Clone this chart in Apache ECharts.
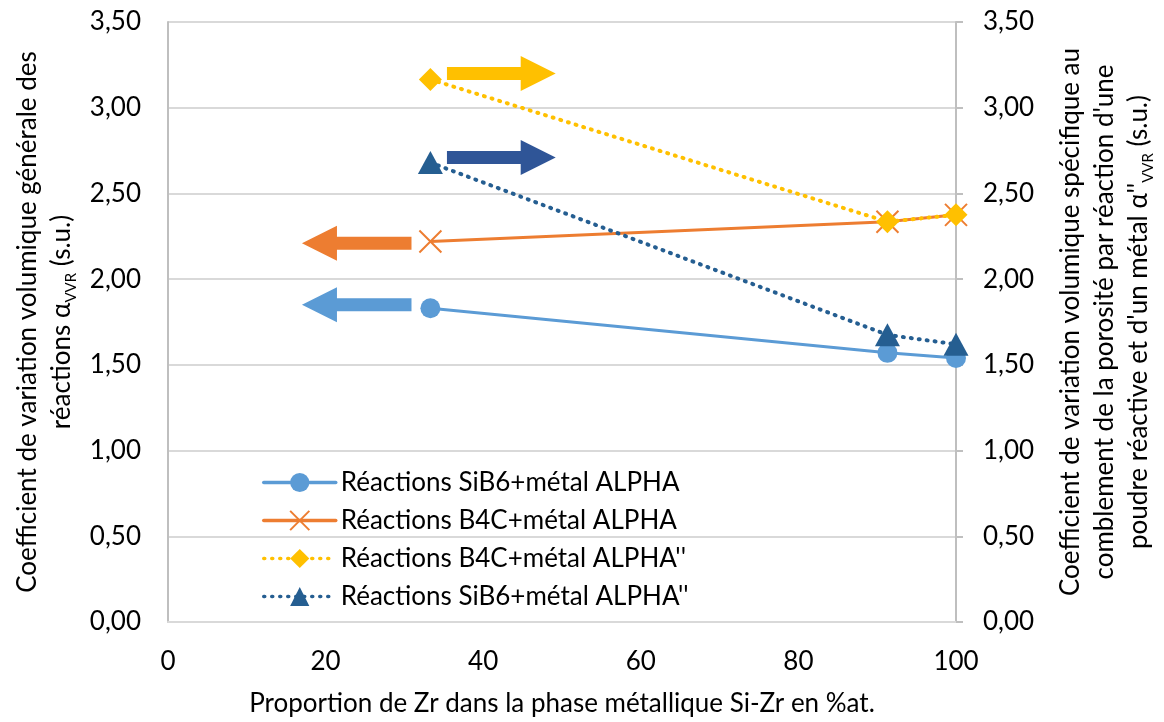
<!DOCTYPE html>
<html>
<head>
<meta charset="utf-8">
<script src="https://cdn.jsdelivr.net/npm/echarts@6/dist/echarts.min.js"></script>
<style>
html,body{margin:0;padding:0;background:#fff;}
#chart{width:1164px;height:722px;}
</style>
</head>
<body>
<div id="chart"></div>
<script>
// ---- data ----
const xValues = [33.3, 91.3, 100];
const sib6Alpha = [1.83, 1.57, 1.54];
const b4cAlpha = [2.22, 2.335, 2.375];
const b4cAlpha2 = [3.165, 2.335, 2.375];
const sib6Alpha2 = [2.68, 1.675, 1.62];
const seriesNames = [
  'Réactions SiB6+métal ALPHA',
  'Réactions B4C+métal ALPHA',
  "Réactions B4C+métal ALPHA''",
  "Réactions SiB6+métal ALPHA''"
];
// annotation arrows (tail x, tip x, y) in data units
const arrowTailX = [35.4, 35.4, 30.9, 30.9];
const arrowTipX = [49.2, 49.2, 17.0, 17.0];
const arrowY = [3.20, 2.71, 2.21, 1.85];
const arrowColors = ['#FFC000', '#2F5597', '#ED7D31', '#5B9BD5'];
const xTicks = [0, 20, 40, 60, 80, 100];

const FONT = 'Lato';
const FS = 26;
const fmt = v => v.toFixed(2).replace('.', ',');
const pts = arr => xValues.map((x, i) => [x, arr[i]]);

const arrowData = arrowTailX.map((t, i) => [t, arrowY[i], arrowTipX[i], arrowY[i]]);
const lineColors = ['#5B9BD5', '#ED7D31', '#FFC000', '#255E91'];
const dotted = [1, 7];

const chart = echarts.init(document.getElementById('chart'));
chart.setOption({
  animation: false,
  backgroundColor: '#fff',
  textStyle: { fontFamily: FONT },
  grid: { left: 168, right: 206, top: 22, bottom: 96 },
  legend: {
    data: seriesNames.map((n, i) => ({
      name: n,
      lineStyle: { width: 3.5, color: lineColors[i], type: i >= 2 ? dotted : 'solid', cap: 'round' }
    })),
    lineStyle: { width: 3.5 },
    orient: 'vertical',
    left: 262,
    top: 469,
    padding: 0,
    itemWidth: 72,
    itemHeight: 24,
    itemGap: 11,
    textStyle: { fontFamily: FONT, fontSize: FS, color: '#000', lineHeight: 27 }
  },
  xAxis: {
    type: 'value', min: 0, max: 100, interval: 20,
    axisLine: { show: true, lineStyle: { color: '#D9D9D9', width: 2 } },
    axisTick: { show: false },
    splitLine: { show: false },
    axisLabel: { margin: 27, fontSize: FS, color: '#000', fontFamily: FONT,
      formatter: v => xTicks.includes(v) ? String(v) : '' },
    name: 'Proportion de Zr dans la phase métallique Si-Zr en %at.',
    nameLocation: 'middle', nameGap: 69,
    nameTextStyle: { fontSize: FS, color: '#000', fontFamily: FONT }
  },
  yAxis: [
    {
      type: 'value', min: 0, max: 3.5, interval: 0.5, position: 'left',
      axisLine: { show: true, lineStyle: { color: '#BFBFBF', width: 2 } },
      axisTick: { show: false },
      splitLine: { show: true, lineStyle: { color: '#D9D9D9', width: 2 } },
      axisLabel: { margin: 27, fontSize: FS, color: '#000', fontFamily: FONT, formatter: fmt },
      name: 'Coefficient de variation volumique générale des\nréactions α{sub|VVR} (s.u.)',
      nameLocation: 'middle', nameGap: 82,
      nameTextStyle: { fontSize: FS, color: '#000', fontFamily: FONT, lineHeight: 34, align: 'center',
        rich: { sub: { fontSize: 15, verticalAlign: 'bottom', lineHeight: 24, fontFamily: FONT, color: '#000' } } }
    },
    {
      type: 'value', min: 0, max: 3.5, interval: 0.5, position: 'right',
      axisLine: { show: true, lineStyle: { color: '#BFBFBF', width: 2 } },
      axisTick: { show: true, length: 7, lineStyle: { color: '#BFBFBF', width: 2 } },
      splitLine: { show: false },
      axisLabel: { margin: 27, fontSize: FS, color: '#000', fontFamily: FONT, formatter: fmt },
      name: "Coefficient de variation volumique spécifique au\ncomblement de la porosité par réaction d'une\npoudre réactive et d'un métal α''{sub|VVR} (s.u.)",
      nameLocation: 'middle', nameGap: 98,
      nameTextStyle: { fontSize: FS, color: '#000', fontFamily: FONT, lineHeight: 34, align: 'center',
        rich: { sub: { fontSize: 15, verticalAlign: 'bottom', lineHeight: 24, fontFamily: FONT, color: '#000' } } }
    }
  ],
  series: [
    {
      type: 'custom', silent: true, z: 1,
      data: arrowData,
      encode: { x: [0, 2], y: [1, 3] },
      renderItem: (params, api) => {
        const p1 = api.coord([api.value(0), api.value(1)]);
        const p2 = api.coord([api.value(2), api.value(3)]);
        const d = p2[0] > p1[0] ? 1 : -1;
        const hw = 6.5, hh = 17.5, hl = 35;
        const bx = p2[0] - d * hl, y = p1[1];
        return {
          type: 'polygon',
          shape: { points: [
            [p1[0], y - hw], [bx, y - hw], [bx, y - hh], [p2[0], y],
            [bx, y + hh], [bx, y + hw], [p1[0], y + hw]
          ] },
          style: { fill: arrowColors[params.dataIndex] }
        };
      }
    },
    {
      name: seriesNames[0], type: 'line', yAxisIndex: 0, z: 3,
      data: pts(sib6Alpha),
      symbol: 'circle', symbolSize: 20,
      lineStyle: { color: lineColors[0], width: 3 },
      itemStyle: { color: lineColors[0] }
    },
    {
      name: seriesNames[1], type: 'line', yAxisIndex: 0, z: 3,
      data: pts(b4cAlpha),
      symbol: 'path://M0,0L10,10M10,0L0,10', symbolSize: 22,
      lineStyle: { color: lineColors[1], width: 3 },
      itemStyle: { color: lineColors[1], borderColor: lineColors[1], borderWidth: 2 }
    },
    {
      name: seriesNames[2], type: 'line', yAxisIndex: 1, z: 4,
      data: pts(b4cAlpha2),
      symbol: 'diamond', symbolSize: 23,
      lineStyle: { color: lineColors[2], width: 4, type: dotted, cap: 'round' },
      itemStyle: { color: lineColors[2] }
    },
    {
      name: seriesNames[3], type: 'line', yAxisIndex: 1, z: 4,
      data: pts(sib6Alpha2),
      symbol: 'triangle', symbolSize: [25, 23],
      lineStyle: { color: lineColors[3], width: 4, type: dotted, cap: 'round' },
      itemStyle: { color: lineColors[3] }
    }
  ]
});
</script>
</body>
</html>
